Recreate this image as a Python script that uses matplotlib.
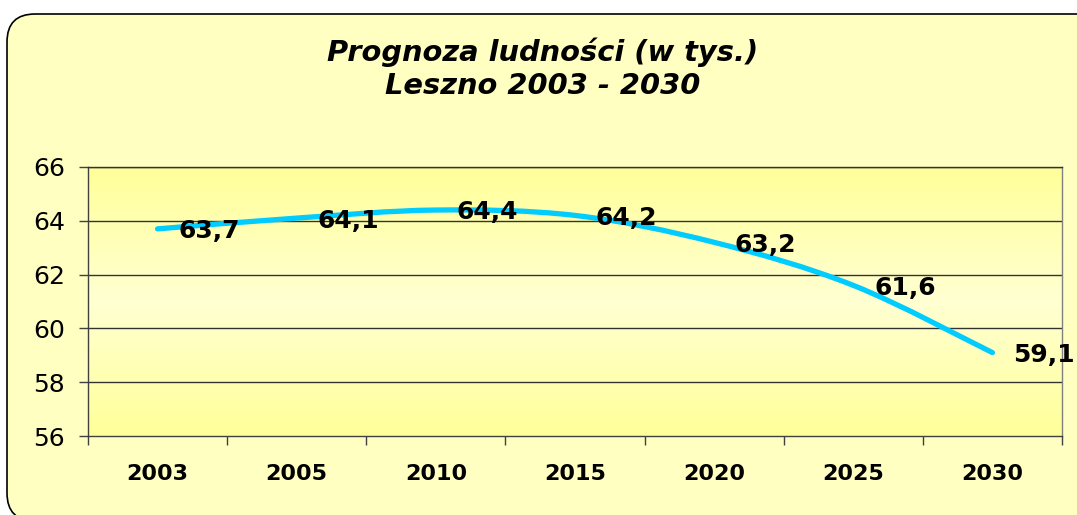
import numpy as np
import matplotlib
matplotlib.use('Agg')
import matplotlib.pyplot as plt
from matplotlib.path import Path
from matplotlib.patches import PathPatch, FancyBboxPatch
from matplotlib.colors import LinearSegmentedColormap

# DejaVu is a little wider than Arial, close to the stretched look of the original
plt.rcParams['font.family'] = ['DejaVu Sans']

# data
years = ['2003', '2005', '2010', '2015', '2020', '2025', '2030']
population = [63.7, 64.1, 64.4, 64.2, 63.2, 61.6, 59.1]
y_ticks = [56, 58, 60, 62, 64, 66]
title_lines = ['Prognoza ludności (w tys.)', 'Leszno 2003 - 2030']

W, H = 1077, 515
fig = plt.figure(figsize=(W / 100, H / 100), dpi=100)
fig.patch.set_facecolor('white')

# rounded outer frame (partly cut off at right/bottom), pixel coords from bottom-left
frame = FancyBboxPatch((7, -6), 1100, H - 14 + 6, boxstyle='round,pad=0,rounding_size=28',
                       transform=None, facecolor='#FFFFC2', edgecolor='black',
                       linewidth=1.2)
frame.set_zorder(-5)
fig.add_artist(frame)

ax = fig.add_axes([88 / W, 1 - 436 / H, 974 / W, 269 / H])
ax.set_zorder(2)
ax.set_facecolor('none')

# plot area gradient (yellow top and bottom, lighter middle)
cmap = LinearSegmentedColormap.from_list('plotbg', ['#FFFF99', '#FFFFD2', '#FFFF99'])
grad = np.linspace(0, 1, 256).reshape(-1, 1)
ax.imshow(grad, cmap=cmap, aspect='auto', extent=[0, 1, 0, 1],
          transform=ax.transAxes, zorder=0)

x = np.arange(len(years))
ax.set_xlim(-0.5, len(years) - 0.5)
ax.set_ylim(56, 66)

# smoothed line through the points (Catmull-Rom as cubic Bezier)
pts = np.column_stack([x, population]).astype(float)
verts = [tuple(pts[0])]
codes = [Path.MOVETO]
for i in range(len(pts) - 1):
    p0 = pts[max(i - 1, 0)]
    p1 = pts[i]
    p2 = pts[i + 1]
    p3 = pts[min(i + 2, len(pts) - 1)]
    c1 = p1 + (p2 - p0) / 6.0
    c2 = p2 - (p3 - p1) / 6.0
    verts += [tuple(c1), tuple(c2), tuple(p2)]
    codes += [Path.CURVE4] * 3
ax.add_patch(PathPatch(Path(verts, codes), facecolor='none', edgecolor='#00CCFF',
                       linewidth=3.8, capstyle='round', joinstyle='round', zorder=3))

for xi, v in zip(x, population):
    ax.annotate(f'{v:.1f}'.replace('.', ','), (xi, v), xytext=(15, -6.8),
                textcoords='offset points', ha='left', va='baseline',
                fontsize=18, fontweight='bold', color='black', zorder=4,
                annotation_clip=False)

# axes styling
ax.set_yticks(y_ticks)
ax.set_yticklabels([str(t) for t in y_ticks])
ax.tick_params(axis='y', length=6.5, width=1, color='#404040', pad=10, labelsize=18)
ax.set_xticks(x)
ax.set_xticklabels(years, fontweight='bold')
ax.tick_params(axis='x', which='major', length=0, pad=20, labelsize=16)
ax.set_xticks(np.arange(len(years) + 1) - 0.5, minor=True)
ax.tick_params(axis='x', which='minor', length=6.5, width=1, color='#404040')

for t in y_ticks[1:]:
    ax.axhline(t, color='#333333', linewidth=1, zorder=1)

ax.spines['left'].set_color('#404040')
ax.spines['bottom'].set_color('#404040')
ax.spines['right'].set_color('#808080')
ax.spines['top'].set_color('#333333')
for s in ax.spines.values():
    s.set_linewidth(1)

for line, base in zip(title_lines, [61, 94]):
    fig.text(543 / W, 1 - base / H, line, ha='center', va='baseline',
             fontsize=20.8, fontweight='bold', fontstyle='italic')

fig.savefig('out.png', dpi=100, facecolor=fig.get_facecolor())
